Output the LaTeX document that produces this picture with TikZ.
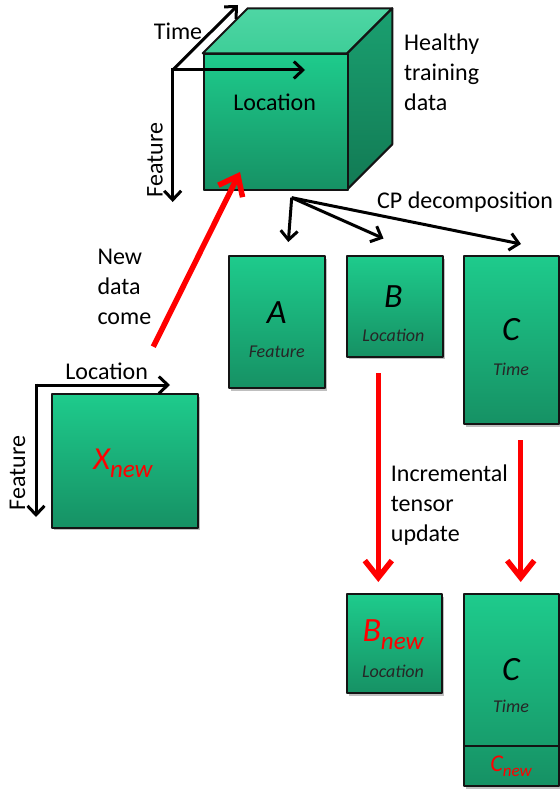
\documentclass[tikz,border=0pt]{standalone}
\usepackage{fontspec}
\setmainfont{Carlito}
\usetikzlibrary{arrows.meta,shadows}

\definecolor{gtop}{RGB}{30,203,140}
\definecolor{gbot}{RGB}{22,145,100}
\definecolor{ctopA}{RGB}{78,214,164}
\definecolor{ctopB}{RGB}{62,206,152}
\definecolor{csideA}{RGB}{26,160,112}
\definecolor{csideB}{RGB}{18,122,84}
\definecolor{newred}{RGB}{255,0,0}

\begin{document}
\begin{tikzpicture}[x=1pt,y=-1pt,
  face/.style={draw=black!92, line width=2pt, line join=round},
  box/.style={face, top color=gtop, bottom color=gbot, inner sep=0pt,
    anchor=north west,
    drop shadow={shadow xshift=2pt, shadow yshift=-2.5pt, fill=black, opacity=0.25}},
  axis/.style={line width=3pt, -{Straight Barb[length=9pt,width=17pt]}},
  upd/.style={newred, line width=5.5pt, -{Straight Barb[length=17pt,width=27pt]}},
  lbl/.style={font=\fontsize{24}{30}\selectfont, inner sep=0pt},
  blk/.style={lbl, align=left, anchor=west},
  letter/.style={font=\fontsize{34}{40}\selectfont\itshape, inner sep=0pt},
  mode/.style={font=\fontsize{18}{22}\selectfont\itshape, inner sep=0pt, text=black!85},
]
\useasboundingbox (0,0) rectangle (559,789);

% ---------- training tensor drawn as a cube ----------
\coordinate (cfl) at (202.7,53.3);
\coordinate (cfr) at (347.3,53.3);
\coordinate (cbl) at (247.7,8.3);
\coordinate (cbr) at (392.3,8.3);
\coordinate (crb) at (392.3,144.3);
\coordinate (cfb) at (347.3,189.3);
\path[face, top color=ctopA, bottom color=ctopB]
  (cfl) -- (cbl) -- (cbr) -- (cfr) -- cycle;
\path[face, top color=csideA, bottom color=csideB]
  (cfr) -- (cbr) -- (crb) -- (cfb) -- cycle;
\node[face, top color=gtop, bottom color=gbot, inner sep=0pt, anchor=north west,
  minimum width=144.6pt, minimum height=136pt] (front) at (cfl) {};
\node[lbl] (cubeloc) at (274.7,102.5) {Location};

% cube axes
\coordinate (o1) at (172.7,70);
\coordinate (o1t) at (238,5);
\coordinate (o1l) at (305,70);
\coordinate (o1f) at (172.7,202);
\draw[axis] (o1) -- (o1t);
\draw[axis] (o1) -- (o1l);
\draw[axis, line cap=butt] ([yshift=1.5pt]o1) -- (o1f);
\node[lbl] (ltime) at (178,31) {Time};
\node[lbl, rotate=90] (lfeat) at (155,160) {Feature};

\node[blk] (healthy) at (404,72) {Healthy\\training\\data};

% ---------- CP factors ----------
\node[box, minimum width=95.7pt, minimum height=132.3pt] (boxA) at (228.3,255) {};
\node[box, minimum width=96pt, minimum height=100.7pt] (boxB) at (345.7,255) {};
\node[box, minimum width=95pt, minimum height=168.3pt] (boxC) at (463.3,255) {};

\node[letter] (la) at (276.7,312.7) {A};
\node[mode] (ma) at (276.7,351.7) {Feature};
\node[letter] (lb) at (393.3,296.7) {B};
\node[mode] (mb) at (393.3,335.7) {Location};
\node[letter] (lc) at (511,330) {C};
\node[mode] (mc) at (511,369) {Time};

\coordinate (cp) at (291.7,197.7);
\coordinate (cpa) at (288.3,242);
\coordinate (cpb) at (383.5,238.5);
\coordinate (cpc) at (521,244);
\draw[axis] (cp) -- (cpa);
\draw[axis] (cp) -- (cpb);
\draw[axis] (cp) -- (cpc);
\node[lbl, anchor=west] (cplbl) at (377,202.5) {CP decomposition};

% ---------- new data slice ----------
\node[box, minimum width=146.6pt, minimum height=133.4pt] (xnew) at (50.7,393.3) {};
\node[inner sep=0pt, text=newred] (xlbl) at (123,463)
  {\fontsize{32}{38}\selectfont\itshape X\raisebox{-8pt}{\fontsize{25}{30}\selectfont new}};
\coordinate (o2) at (36,385);
\coordinate (o2l) at (170,385);
\coordinate (o2f) at (36,517);
\draw[axis] (o2) -- (o2l);
\draw[axis, line cap=butt] ([yshift=1.5pt]o2) -- (o2f);
\node[lbl] (xloc) at (106.7,371) {Location};
\node[lbl, rotate=90] (xfeat) at (17.5,473) {Feature};

\coordinate (ns) at (153.3,346.7);
\coordinate (ne) at (240,172);
\draw[upd] (ns) -- (ne);
\node[blk] (newdata) at (97.3,287) {New\\data\\come};

% ---------- incremental update ----------
\coordinate (bs) at (378.3,373.3);
\coordinate (be) at (378.3,582);
\coordinate (cs) at (520.7,440);
\coordinate (ce) at (520.7,582);
\draw[upd, line cap=butt] (bs) -- (be);
\draw[upd, line cap=butt] (cs) -- (ce);
\node[blk] (incr) at (390.7,505) {Incremental\\tensor\\update};

\node[box, minimum width=95.3pt, minimum height=99pt] (bnew) at (345.7,593.3) {};
\node[inner sep=0pt, text=newred] (lbn) at (393,635)
  {\fontsize{34}{40}\selectfont\itshape B\raisebox{-8pt}{\fontsize{25}{30}\selectfont new}};
\node[mode] (mbn) at (393,671.7) {Location};

\node[box, minimum width=95pt, minimum height=191.7pt] (cnewall) at (463.3,593.3) {};
\draw[face] (cnewall.west |- 0,745.7) -- (cnewall.east |- 0,745.7);
\node[letter] (lcn) at (511,670) {C};
\node[mode] (mcn) at (511,706.7) {Time};
\node[inner sep=0pt, text=newred] (lcnew) at (511,766)
  {\fontsize{24}{28}\selectfont\itshape C\raisebox{-5pt}{\fontsize{17}{20}\selectfont new}};
\end{tikzpicture}
\end{document}
